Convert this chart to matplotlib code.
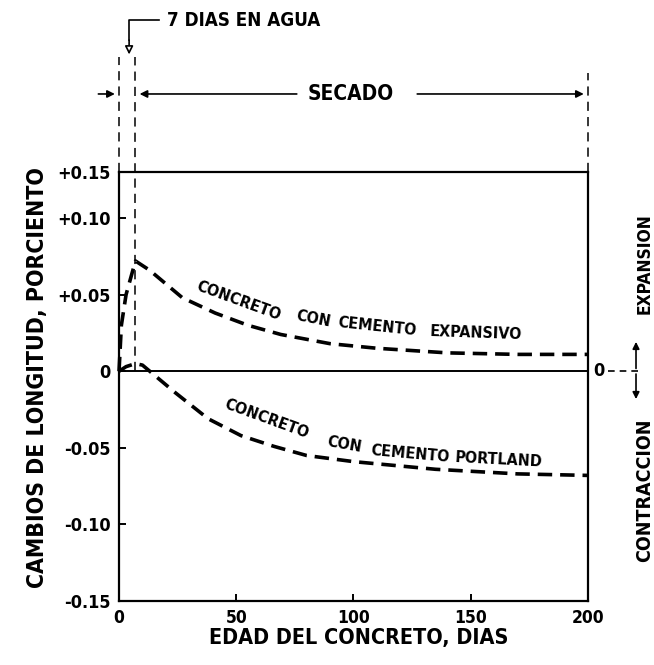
import matplotlib
matplotlib.use("Agg")
import matplotlib.pyplot as plt

# datos
dias_exp = [0, 1, 3, 7, 13, 27, 41, 55, 69, 90, 110, 140, 170, 200]
cambio_exp = [0.0, 0.03, 0.05, 0.072, 0.066, 0.048, 0.038, 0.030, 0.024,
              0.018, 0.015, 0.012, 0.011, 0.011]

dias_port = [0, 3, 7, 10, 24, 38, 52, 66, 80, 100, 135, 170, 200]
cambio_port = [0.0, 0.003, 0.005, 0.004, -0.014, -0.031, -0.042, -0.049,
               -0.055, -0.059, -0.064, -0.067, -0.068]

x_ticks = [0, 50, 100, 150, 200]
x_labels = ['0', '50', '100', '150', '200']
# el borde superior del dibujo original queda en 0.13 aunque dice +0.15
y_ticks = [-0.15, -0.10, -0.05, 0.0, 0.05, 0.10, 0.13]
y_labels = ['-0.15', '-0.10', '-0.05', '0', '+0.05', '+0.10', '+0.15']

dias_agua = 7
fin = 200

plt.rcParams['font.family'] = 'DejaVu Sans'
plt.rcParams['font.weight'] = 'bold'
plt.rcParams['font.stretch'] = 'condensed'

fig = plt.figure(figsize=(6.54, 6.65), dpi=100)
ax = fig.add_axes([0.182, 0.0962, 0.717, 0.645])

# curvas
dash = (4, 2.2)
l1, = ax.plot(dias_exp, cambio_exp, color='black', lw=2.6, clip_on=False)
l1.set_dashes(dash)
l2, = ax.plot(dias_port, cambio_port, color='black', lw=2.6, clip_on=False)
l2.set_dashes(dash)

ax.axhline(0, color='black', lw=1.4)

ax.set_xlim(0, fin)
ax.set_ylim(-0.15, 0.13)
ax.set_xticks(x_ticks)
ax.set_xticklabels(x_labels, fontsize=12.5)
ax.set_yticks(y_ticks)
ax.set_yticklabels(y_labels, fontsize=13)
ax.tick_params(axis='both', direction='in', length=5, width=1.4)
ax.tick_params(axis='x', pad=6)
ax.tick_params(axis='y', pad=6)
for s in ax.spines.values():
    s.set_linewidth(1.6)

# lineas verticales punteadas
vd = dict(color='black', lw=1.1, dashes=(6, 4), clip_on=False)
ax.plot([0, 0], [0.13, 0.205], **vd)
ax.plot([dias_agua, dias_agua], [0, 0.205], **vd)
ax.plot([fin, fin], [0.13, 0.195], **vd)

# 7 dias en agua
ax.plot([17, 4.3, 4.3], [0.229, 0.229, 0.216], color='black', lw=1.2, clip_on=False)
ax.annotate('', xy=(4.3, 0.205), xytext=(4.3, 0.218), annotation_clip=False,
            arrowprops=dict(arrowstyle='-|>', color='black', lw=1.2,
                            mutation_scale=12, fc='white'))
ax.text(20.5, 0.229, '7 DIAS EN AGUA', fontsize=13.5, ha='left', va='center',
        clip_on=False)

# secado
y_sec = 0.181
ap = dict(arrowstyle='-|>', color='black', lw=1.2, mutation_scale=11)
ax.annotate('', xy=(-0.6, y_sec), xytext=(-10, y_sec), annotation_clip=False,
            arrowprops=ap)
ax.annotate('', xy=(dias_agua + 0.6, y_sec), xytext=(77, y_sec),
            annotation_clip=False, arrowprops=ap)
ax.annotate('', xy=(fin - 0.6, y_sec), xytext=(126, y_sec),
            annotation_clip=False, arrowprops=ap)
ax.text(99, y_sec, 'SECADO', fontsize=15, ha='center', va='center')

# etiquetas de las curvas
etq_exp = [('CONCRETO', 51, 0.046, -20), ('CON', 83, 0.034, -11),
           ('CEMENTO', 110, 0.029, -6), ('EXPANSIVO', 152, 0.025, -2)]
etq_port = [('CONCRETO', 63, -0.031, -20), ('CON', 96, -0.048, -10),
            ('CEMENTO', 124, -0.054, -5), ('PORTLAND', 162, -0.058, -3)]
for txt, x, y, r in etq_exp + etq_port:
    ax.text(x, y, txt, fontsize=11.5, rotation=r, ha='center', va='center',
            rotation_mode='anchor')

# lado derecho: expansion / contraccion
ax.text(204.5, 0, '0', fontsize=13, ha='center', va='center', clip_on=False)
ax.plot([208.5, 222], [0, 0], color='black', lw=1.2, dashes=(4, 3), clip_on=False)
ax.annotate('', xy=(220.5, 0.021), xytext=(220.5, 0), annotation_clip=False,
            arrowprops=dict(arrowstyle='-|>', color='black', lw=1.2,
                            mutation_scale=10))
ax.annotate('', xy=(220.5, -0.020), xytext=(220.5, 0), annotation_clip=False,
            arrowprops=dict(arrowstyle='-|>', color='black', lw=1.2,
                            mutation_scale=10))
ax.text(224, 0.070, 'EXPANSION', fontsize=12.5, rotation=90, ha='center',
        va='center', clip_on=False)
ax.text(224, -0.078, 'CONTRACCION', fontsize=14, rotation=90, ha='center',
        va='center', clip_on=False)

# titulos de ejes
fig.text(38 / 654, 1 - 378 / 665, 'CAMBIOS DE LONGITUD, PORCIENTO',
         fontsize=16.5, rotation=90, ha='center', va='center')
fig.text(359 / 654, 1 - 638 / 665, 'EDAD DEL CONCRETO, DIAS',
         fontsize=15.5, ha='center', va='center')

fig.savefig('out.png', dpi=100)
